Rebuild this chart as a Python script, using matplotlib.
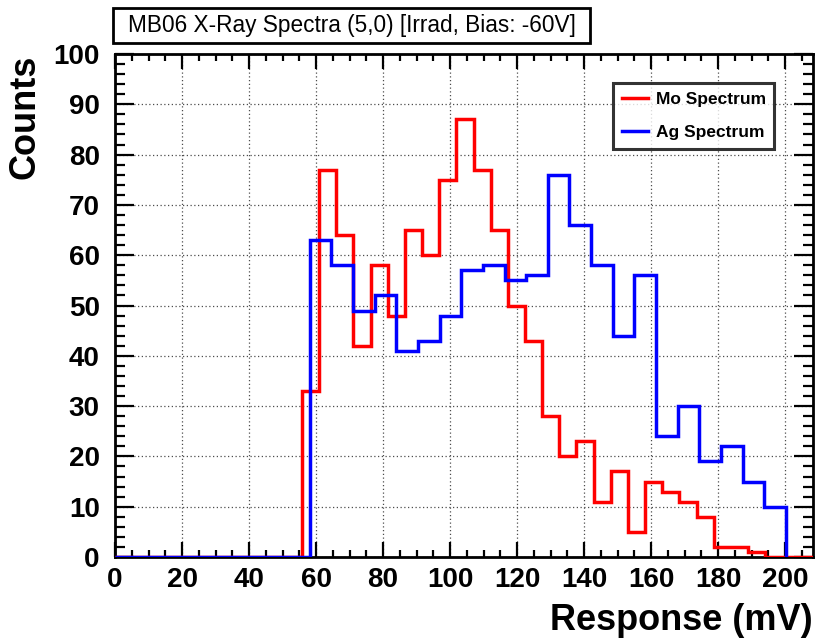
import numpy as np
import matplotlib
matplotlib.use("Agg")
from matplotlib import pyplot as plt
from matplotlib.patches import Rectangle
from matplotlib.ticker import MultipleLocator

# Mo spectrum: counts per bin, bins start at 55.8 mV, width 5.12 mV
mo_start = 55.8
mo_width = 5.12
mo_counts = [33, 77, 64, 42, 58, 48, 65, 60, 75, 87, 77, 65, 50, 43, 28,
             20, 23, 11, 17, 5, 15, 13, 11, 8, 2, 2, 1]

# Ag spectrum: counts per bin, bins start at 58.1 mV, width 6.46 mV
ag_start = 58.1
ag_width = 6.46
ag_counts = [63, 58, 49, 52, 41, 43, 48, 57, 58, 55, 56, 76, 66, 58, 44,
             56, 24, 30, 19, 22, 15, 10]

x_max = 208.3
y_max = 100

title = "MB06 X-Ray Spectra (5,0) [Irrad, Bias: -60V]"

plt.rcParams['font.family'] = ['Liberation Sans', 'DejaVu Sans']

fig = plt.figure(figsize=(8.17, 6.41), dpi=100)
W, H = 817, 641
ax = fig.add_axes([115 / W, 1 - 557 / H, (813 - 115) / W, (557 - 54) / H])


def full_hist(start, width, counts):
    # pad with empty bins from 0 up to the first filled bin and up to the axis end
    edges = start + width * np.arange(len(counts) + 1)
    edges = np.concatenate([[0], edges, [x_max]])
    vals = np.concatenate([[0], counts, [0]])
    return vals, edges


mo_vals, mo_edges = full_hist(mo_start, mo_width, mo_counts)
ag_vals, ag_edges = full_hist(ag_start, ag_width, ag_counts)

ax.stairs(mo_vals, mo_edges, color="#ff0000", lw=2.5, label="Mo Spectrum", zorder=3)
ax.stairs(ag_vals[:-1], ag_edges[:-1], color="#0000ff", lw=2.5, label="Ag Spectrum", zorder=4)

ax.set_xlim(0, x_max)
ax.set_ylim(0, y_max)

ax.xaxis.set_major_locator(MultipleLocator(20))
ax.xaxis.set_minor_locator(MultipleLocator(5))
ax.yaxis.set_major_locator(MultipleLocator(10))
ax.yaxis.set_minor_locator(MultipleLocator(2))

ax.grid(True, which="major", color="0.3", linestyle=(0, (1, 2)), lw=0.9)
ax.set_axisbelow(True)

ax.tick_params(which="both", direction="in", top=True, right=True, width=1.6)
ax.tick_params(axis="x", which="major", length=11, labelsize=20, pad=7)
ax.tick_params(axis="x", which="minor", length=5)
ax.tick_params(axis="y", which="major", length=14, labelsize=20, pad=11)
ax.tick_params(axis="y", which="minor", length=7)
for lab in ax.get_xticklabels() + ax.get_yticklabels():
    lab.set_fontweight("bold")

for sp in ax.spines.values():
    sp.set_linewidth(2)

leg = ax.legend(loc="upper left", bbox_to_anchor=(0.7135, 0.9423), borderaxespad=0,
                frameon=True, fancybox=False, prop={"weight": "bold", "size": 12.5},
                handlelength=1.5, handletextpad=0.45, labelspacing=1.05, borderpad=0.5)
leg.get_frame().set_edgecolor("black")
leg.get_frame().set_linewidth(2.2)
for h in leg.get_lines():
    h.set_linewidth(2.5)

# title box
fig.patches.append(Rectangle((113 / W, 1 - 43 / H), (590 - 113) / W, 35 / H,
                             transform=fig.transFigure, facecolor="white",
                             edgecolor="black", lw=2, zorder=0))
fig.text(351.5 / W, 1 - 25.5 / H, title, ha="center", va="center", fontsize=16.3,
         zorder=5)

fig.text(25 / W, 1 - 55 / H, "Counts", rotation=90, ha="center", va="top",
         fontsize=26, fontweight="bold")
fig.text(813 / W, 1 - 621 / H, "Response (mV)", ha="right", va="center",
         fontsize=26, fontweight="bold")

fig.savefig("out.png", dpi=100)
